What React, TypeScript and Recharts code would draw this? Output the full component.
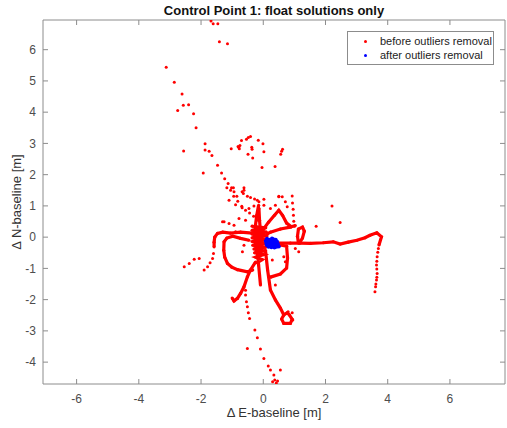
import { ScatterChart, Scatter, XAxis, YAxis } from "recharts"

// axis limits (equal aspect) and tick values
const X_DOMAIN = [-7.08, 7.77]
const Y_DOMAIN = [-4.7, 6.95]
const X_TICKS = [-6, -4, -2, 0, 2, 4, 6]
const Y_TICKS = [-4, -3, -2, -1, 0, 1, 2, 3, 4, 5, 6]

const RED = "#ff0000"
const BLUE = "#0000ff"
const AXIS = "#8c8c8c"

// scattered float fixes (before outliers removal)
const upperDots: [number, number][] = [
  [-1.68, 6.92], [-1.61, 6.83], [-1.46, 6.83], [-1.41, 6.25], [-1.15, 6.19],
  [-3.12, 5.44], [-2.86, 4.96], [-2.61, 4.58], [-2.57, 4.22], [-2.4, 4.24], [-2.75, 4.05], [-2.24, 3.95], [-2.16, 3.5],
  [-1.87, 2.99], [-2.56, 2.76], [-1.87, 2.79], [-1.74, 2.75], [-1.65, 2.61], [-1.47, 2.3], [-1.93, 2.05], [-1.34, 2.05],
  [-1.24, 1.87], [-1.13, 1.72], [-1.02, 1.58], [-0.96, 1.58], [-1.17, 1.58], [-0.94, 1.45], [-0.85, 1.31], [-0.68, 1.45],
  [-0.62, 1.58], [-0.64, 1.4], [-0.51, 1.31], [-0.41, 1.27], [-0.28, 1.22], [0.5, 1.31], [0.93, 1.32],
  [-1.03, 2.83], [-0.79, 2.88], [-0.81, 2.9], [-0.77, 2.83], [-0.75, 2.93], [-0.7, 3.09], [-0.54, 3.13], [-0.48, 3.19],
  [-0.41, 3.22], [-0.37, 2.88], [-0.36, 2.81], [-0.16, 3.1], [-0.01, 2.99], [0.02, 2.73], [-0.49, 2.65], [-0.34, 2.53],
  [-0.04, 2.23], [0.38, 2.26], [0.62, 2.81], [0.59, 2.75], [0.56, 2.65],
]

const midDots: [number, number][] = [
  [-1.05, 1.5], [-0.95, 1.31], [-0.82, 1.15], [-0.69, 0.99], [-0.57, 0.86], [-0.44, 0.77], [-0.31, 0.67], [-0.21, 0.54],
  [-1.1, 1.18], [-0.89, 1.04], [-0.68, 0.94], [-0.46, 0.92], [-0.3, 1.0], [-0.14, 1.13], [0.02, 1.21],
  [-0.62, 1.5], [-0.19, 1.18], [0.02, 1.02], [0.23, 0.92], [0.39, 1.02], [0.5, 1.29], [0.61, 1.29], [0.71, 1.13], [0.77, 0.97],
  [0.94, 1.09], [0.96, 0.89], [0.97, 0.7], [0.98, 0.51], [1.0, 0.35],
  [2.21, 1.0], [1.7, 0.35], [2.47, 0.47], [1.03, -0.36], [1.14, -0.47],
  [-1.26, 0.49], [-1.1, 0.44], [-0.94, 0.38], [-0.78, 0.6], [-0.57, 0.54], [-0.89, 0.17], [-0.62, -0.26], [-0.67, -0.47],
  [0.29, -0.73], [0.66, -0.63], [0.71, -0.79], [-1.31, 0.49], [0.39, -1.53],
]

const westDrop: [number, number][] = [
  [-2.54, -0.95], [-2.38, -0.84], [-2.22, -0.71], [-2.06, -0.68], [-1.9, -1.05], [-1.79, -0.95], [-1.71, -0.82],
  [-1.63, -0.68], [-1.6, -0.52],
]

const eastDrop: [number, number][] = [
  [3.7, -0.36], [3.68, -0.48], [3.66, -0.63], [3.65, -0.77], [3.64, -0.89], [3.65, -1.02], [3.66, -1.16],
  [3.65, -1.28], [3.64, -1.37], [3.62, -1.5], [3.61, -1.59], [3.59, -1.75],
]

const southDrop: [number, number][] = [
  [-0.57, -1.7], [-0.57, -1.85], [-0.54, -2.07], [-0.51, -2.23], [-0.48, -2.42], [-0.44, -2.6], [-0.27, -2.97],
  [-0.19, -3.22], [-0.51, -3.56], [-0.09, -3.58], [0.02, -3.88], [0.16, -4.12], [0.23, -4.25], [0.34, -4.41],
  [0.55, -4.25], [0.37, -4.57], [0.42, -4.67], [0.3, -4.63], [0.46, -4.6], [0.8, -2.39], [0.93, -2.42], [0.95, -2.65],
]

// continuous runs of fixes, drawn as joined tracks
const eastTrack: [number, number][] = [
  [0.17, -0.1], [0.49, -0.19], [0.87, -0.19], [1.19, -0.19], [1.51, -0.2], [1.93, -0.18], [2.25, -0.15], [2.47, -0.22],
  [2.73, -0.16], [3.01, -0.1], [3.27, -0.02], [3.43, 0.06], [3.65, 0.14], [3.8, 0.01], [3.72, -0.25],
]
const smallLoop: [number, number][] = [
  [1.13, -0.19], [1.1, 0.03], [1.13, 0.26], [1.26, 0.32], [1.32, 0.19], [1.26, -0.03], [1.16, -0.19],
]
const westTrack: [number, number][] = [
  [-0.35, 0.13], [-0.73, 0.16], [-1.05, 0.13], [-1.3, 0.16], [-1.47, 0.12], [-1.56, 0.0], [-1.58, -0.16], [-1.58, -0.31],
]
const innerLoop: [number, number][] = [
  [-0.46, -0.1], [-0.73, -0.04], [-0.98, 0.03], [-1.17, -0.03], [-1.26, -0.15], [-1.27, -0.42], [-1.24, -0.64],
  [-1.15, -0.84], [-1.01, -0.96], [-0.83, -1.04], [-0.51, -1.11], [-0.34, -1.05],
]
const coreVertical: [number, number][] = [
  [-0.15, 1.02], [-0.21, 0.7], [-0.25, 0.38], [-0.28, 0.06], [-0.25, -0.26], [-0.18, -0.58], [-0.15, -0.89],
  [-0.12, -1.21], [-0.09, -1.53],
]
const coreBlob: [number, number][] = [
  [-0.36, 0.35], [0.08, 0.3], [-0.36, 0.22], [0.1, 0.16], [-0.36, 0.1], [0.12, 0.04], [-0.36, -0.02], [0.12, -0.08],
  [-0.36, -0.14], [0.1, -0.2], [-0.34, -0.26], [0.08, -0.32], [-0.3, -0.38], [0.04, -0.44], [-0.28, -0.5],
  [0.0, -0.56], [-0.24, -0.64], [-0.04, -0.72], [-0.2, -0.82],
]
const northStem: [number, number][] = [[-0.14, 0.92], [-0.12, 0.54], [-0.09, 0.17]]
const northEastTrack: [number, number][] = [
  [-0.02, 0.22], [0.17, 0.48], [0.36, 0.7], [0.5, 0.86], [0.62, 0.7], [0.75, 0.45], [0.9, 0.33], [1.03, 0.37],
]
const eastBranch: [number, number][] = [[0.12, 0.1], [0.23, 0.16], [0.55, 0.26], [0.87, 0.32]]
const southEastTrack: [number, number][] = [
  [0.07, -0.42], [0.14, -1.05], [0.23, -1.69], [0.39, -2.01], [0.55, -2.27], [0.66, -2.49], [0.59, -2.62],
  [0.66, -2.76], [0.87, -2.76], [0.93, -2.63], [0.84, -2.49], [0.77, -2.42], [0.66, -2.49],
]
const hookTrack: [number, number][] = [
  [0.23, -0.3], [0.55, -0.25], [0.75, -0.29], [0.78, -0.67], [0.75, -0.99], [0.55, -1.18], [0.23, -1.28],
]
const southWestTrack: [number, number][] = [
  [-0.25, -0.8], [-0.41, -1.05], [-0.51, -1.27], [-0.62, -1.59], [-0.73, -1.8], [-0.83, -1.96], [-0.94, -2.04], [-1.0, -1.95],
]

// fixes kept after outliers removal
const keptFixes: [number, number][] = [
  [0.08, -0.12], [0.12, -0.05], [0.15, -0.18], [0.19, -0.08], [0.22, -0.24], [0.25, -0.13], [0.28, -0.04], [0.3, -0.2],
  [0.33, -0.28], [0.35, -0.1], [0.38, -0.18], [0.41, -0.24], [0.44, -0.14], [0.47, -0.22], [0.5, -0.3], [0.12, -0.26],
  [0.17, -0.31], [0.26, -0.32], [0.36, -0.33], [0.43, -0.31], [0.2, -0.15], [0.32, -0.07], [0.1, -0.2], [0.4, -0.08],
  [0.27, -0.26],
]

const scatteredDots = [upperDots, midDots, westDrop, eastDrop, southDrop]
const tracks = [
  eastTrack, smallLoop, westTrack, innerLoop, coreVertical, coreBlob, northStem, northEastTrack,
  eastBranch, southEastTrack, hookTrack, southWestTrack,
]

const toPoints = (arr: [number, number][]) => arr.map(([x, y]) => ({ x, y }))

const dot = (r: number) => (p: any) => <circle cx={p.cx} cy={p.cy} r={r} fill={p.fill} />

const FONT = '"Liberation Sans", Arial, sans-serif'
const emptyTick = () => <g />

export default function App() {
  return (
    <div style={{ position: "absolute", left: 0, top: 0, width: 507, height: 428, background: "#fff", fontFamily: FONT }}>
      <ScatterChart width={507} height={428} margin={{ top: 19, right: 1, bottom: 43, left: 42 }}>
        <XAxis
          xAxisId="b" type="number" dataKey="x" domain={X_DOMAIN} ticks={X_TICKS} allowDataOverflow
          interval={0} height={1} tickSize={-5} tickMargin={15} stroke={AXIS}
          tick={{ fill: "#4d4d4d", fontSize: 12 }}
        />
        <XAxis
          xAxisId="t" orientation="top" type="number" dataKey="x" domain={X_DOMAIN} ticks={X_TICKS} allowDataOverflow
          interval={0} height={1} tickSize={-5} stroke={AXIS} tick={emptyTick}
        />
        <YAxis
          yAxisId="l" type="number" dataKey="y" domain={Y_DOMAIN} ticks={Y_TICKS} allowDataOverflow
          interval={0} width={1} tickSize={-5} tickMargin={12} stroke={AXIS}
          tick={{ fill: "#4d4d4d", fontSize: 12 }}
        />
        <YAxis
          yAxisId="r" orientation="right" type="number" dataKey="y" domain={Y_DOMAIN} ticks={Y_TICKS} allowDataOverflow
          interval={0} width={1} tickSize={-5} stroke={AXIS} tick={emptyTick}
        />
        {tracks.map((t, i) => (
          <Scatter
            key={"t" + i} xAxisId="b" yAxisId="l" data={toPoints(t)} fill={RED}
            line={{ stroke: RED, strokeWidth: 3.2 }} lineJointType="linear" shape={dot(1.6)}
            isAnimationActive={false}
          />
        ))}
        {scatteredDots.map((d, i) => (
          <Scatter
            key={"d" + i} xAxisId="b" yAxisId="l" data={toPoints(d)} fill={RED} shape={dot(1.5)}
            isAnimationActive={false}
          />
        ))}
        <Scatter xAxisId="b" yAxisId="l" data={toPoints(keptFixes)} fill={BLUE} shape={dot(2)} isAnimationActive={false} />
      </ScatterChart>

      <div style={{ position: "absolute", left: 274, top: 10, transform: "translate(-50%,-50%)", fontSize: 13, fontWeight: "bold", color: "#111", whiteSpace: "nowrap", lineHeight: 1 }}>
        Control Point 1: float solutions only
      </div>
      <div style={{ position: "absolute", left: 274, top: 412, transform: "translate(-50%,-50%)", fontSize: 13, color: "#333", whiteSpace: "nowrap", lineHeight: 1 }}>
        Δ E-baseline [m]
      </div>
      <div style={{ position: "absolute", left: 16, top: 202, transform: "translate(-50%,-50%) rotate(-90deg)", fontSize: 13, color: "#333", whiteSpace: "nowrap", lineHeight: 1 }}>
        Δ N-baseline [m]
      </div>

      <div style={{ position: "absolute", left: 347, top: 31, width: 145, height: 32, border: "1px solid #8c8c8c", background: "#fff", fontSize: 11, color: "#222" }}>
        <div style={{ position: "absolute", left: 16, top: 8, width: 3, height: 3, borderRadius: 2, background: RED }} />
        <div style={{ position: "absolute", left: 32, top: 3, whiteSpace: "nowrap", lineHeight: "13px" }}>before outliers removal</div>
        <div style={{ position: "absolute", left: 16, top: 22, width: 3, height: 3, borderRadius: 2, background: BLUE }} />
        <div style={{ position: "absolute", left: 32, top: 17, whiteSpace: "nowrap", lineHeight: "13px" }}>after outliers removal</div>
      </div>
    </div>
  )
}
